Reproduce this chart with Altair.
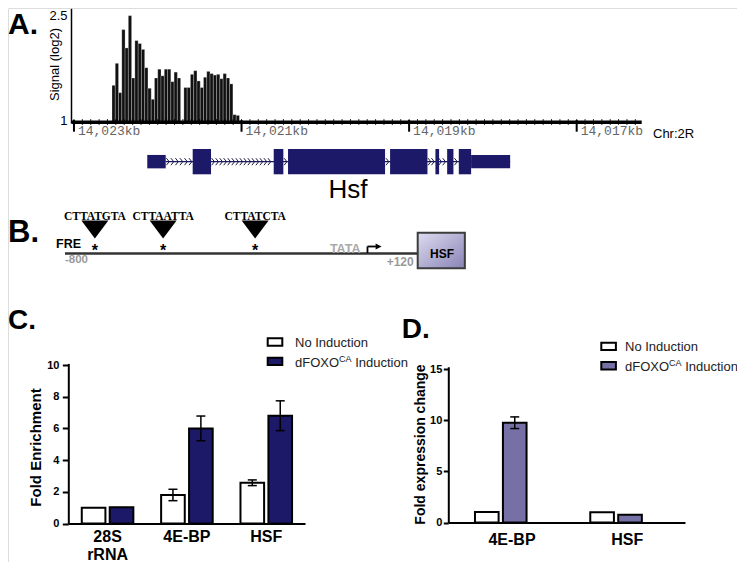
import altair as alt
import numpy as np
import pandas as pd

FONT = "Liberation Sans"
NAVY = "#1b1968"
PURPLE = "#7571a6"

# ---------------- Panel A : ChIP signal over the Hsf locus ----------------
sig_start_kb = 14022.546
sig_bin_kb = 0.039
signal_log2 = [1.50, 1.80, 1.40, 2.26, 2.01, 2.45, 1.60, 2.11, 2.07, 1.99, 1.74, 1.46, 1.31,
               1.60, 1.72, 1.63, 1.72, 1.72, 1.55, 1.68, 1.60, None, 1.47, 1.47, 1.65, 1.70,
               1.56, 1.47, 1.61, 1.69, 1.66, 1.64, 1.65, 1.59, 1.66, 1.60, 1.52, 1.10, 1.09]
ruler_span_kb = [14023.027, 14016.224]
ruler_major_kb = [14023, 14021, 14019, 14017]

exon_start_kb = [14022.125, 14021.583, 14020.616, 14020.445, 14019.227, 14018.686, 14018.546, 14018.407, 14018.260]
exon_end_kb = [14021.905, 14021.364, 14020.501, 14019.287, 14018.781, 14018.642, 14018.471, 14018.260, 14017.794]
exon_half = [0.53, 1, 1, 1, 1, 1, 1, 1, 0.53]
gene_span_kb = [14021.905, 14017.794]
chevron_kb = (list(np.round(np.arange(14021.88, 14021.60, -0.054), 3))
              + list(np.round(np.arange(14021.34, 14020.63, -0.048), 3))
              + [14020.475, 14019.259, 14018.757, 14018.717, 14018.630, 14018.582, 14018.442])
gene_name = "Hsf"
gene_label_kb = 14019.73

# ---------------- Panel B : promoter diagram ----------------
fre_bp = [-722, -544, -304]
fre_seq = ["CTTATGTA", "CTTAATTA", "CTTATCTA"]
promoter_span_bp = [-800, 120]
tata_bp = -109
tss_bp = -11
hsf_box_bp = [120, 243]

# ---------------- Panel C : ChIP fold enrichment ----------------
conds = ["No Induction", "dFOXO Induction"]
c_genes = ["28S rRNA", "4E-BP", "HSF"]
c_no_ind = [1.0, 1.8, 2.57]
c_foxo = [1.02, 6.0, 6.8]
c_no_err = [0, 0.36, 0.18]
c_foxo_err = [0, 0.78, 0.94]
c_ticks = [0, 2, 4, 6, 8, 10]

# ---------------- Panel D : expression ----------------
d_genes = ["4E-BP", "HSF"]
d_no_ind = [1.02, 1.0]
d_foxo = [9.75, 0.75]
d_no_err = [0, 0]
d_foxo_err = [0.57, 0]
d_ticks = [0, 5, 10, 15]

# ======================= build tables =======================
sig_rows = []
for i, v in enumerate(signal_log2):
    if v is None:
        continue
    s = sig_start_kb - i * sig_bin_kb
    sig_rows.append({"start": s, "end": s - sig_bin_kb, "value": v, "base": 1.0})
sig_df = pd.DataFrame(sig_rows)

minor_kb = list(np.round(np.arange(14023.0, 14016.25, -0.1), 2))


def bars_table(genes, a, b, ea, eb):
    rows = []
    for g, v1, v2, e1, e2 in zip(genes, a, b, ea, eb):
        rows.append({"gene": g, "cond": conds[0], "value": v1, "err": e1, "lo": v1 - e1, "hi": v1 + e1})
        rows.append({"gene": g, "cond": conds[1], "value": v2, "err": e2, "lo": v2 - e2, "hi": v2 + e2})
    return pd.DataFrame(rows)


c_df = bars_table(c_genes, c_no_ind, c_foxo, c_no_err, c_foxo_err)
d_df = bars_table(d_genes, d_no_ind, d_foxo, d_no_err, d_foxo_err)

# ======================= Panel A =======================
xA = alt.Scale(domain=ruler_span_kb, range=[63.7, 633.7], nice=False, zero=False)
yA = alt.Scale(domain=[0.985, 2.55], range=[115.1, 0.33], nice=False, zero=False)
axA = alt.Axis(orient="left", offset=-63, values=[1, 2.5],
               labelExpr="datum.value == 1 ? '1' : '2.5'", ticks=False, tickSize=0,
               labelOffset={"condition": {"test": "datum.value > 2", "value": 3.5}, "value": -1.5},
               labelPadding=4, labelFont=FONT, labelFontSize=13, labelColor="black",
               labelOverlap=False, labelBound=False,
               domainColor="black", domainWidth=1.5, grid=False,
               title="Signal (log2)", titleFont=FONT, titleFontSize=13, titleFontWeight="normal",
               titleColor="black", titleX=-17, titleY=56, titleAngle=270, titleAlign="center",
               titleBaseline="middle")

a_bars = alt.Chart(sig_df).mark_rect(color="#111111", stroke="white", strokeWidth=0.25).encode(
    x=alt.X("start:Q", scale=xA, axis=None), x2="end:Q",
    y=alt.Y("value:Q", scale=yA, axis=axA), y2="base:Q")
a_ruler = alt.Chart(pd.DataFrame({"a": [ruler_span_kb[0]], "b": [ruler_span_kb[1]]})).mark_rule(
    color="black", strokeWidth=3.5).encode(
    x=alt.X("a:Q", scale=xA, axis=None), x2="b:Q", y=alt.value(114.3))
a_minor = alt.Chart(pd.DataFrame({"kb": minor_kb})).mark_rule(color="black", strokeWidth=0.8).encode(
    x=alt.X("kb:Q", scale=xA, axis=None), y=alt.value(111), y2=alt.value(117))
major_df = pd.DataFrame({"kb": ruler_major_kb, "label": [f"{v:,}kb" for v in ruler_major_kb]})
a_major = alt.Chart(major_df).mark_rule(color="black", strokeWidth=2).encode(
    x=alt.X("kb:Q", scale=xA, axis=None), y=alt.value(112), y2=alt.value(123.7))
a_major_txt = alt.Chart(major_df).mark_text(align="left", baseline="alphabetic", dx=4,
                                            font="Liberation Mono", fontSize=13, color="#666666").encode(
    x=alt.X("kb:Q", scale=xA, axis=None), y=alt.value(127), text="label:N")
panelA = alt.layer(a_bars, a_ruler, a_minor, a_major, a_major_txt)

# gene model
xG = alt.Scale(domain=ruler_span_kb, range=[63.7, 633.7], nice=False, zero=False)
yG = alt.Scale(domain=[-1, 1], range=[166.3, 141], nice=False, zero=False)
exon_df = pd.DataFrame({"s": exon_start_kb, "e": exon_end_kb,
                        "lo": [-h for h in exon_half], "hi": exon_half})
g_line = alt.Chart(pd.DataFrame({"a": [gene_span_kb[0]], "b": [gene_span_kb[1]]})).mark_rule(
    color=NAVY, strokeWidth=1.2).encode(x=alt.X("a:Q", scale=xG, axis=None), x2="b:Q", y=alt.value(153.7))
g_exons = alt.Chart(exon_df).mark_rect(color=NAVY).encode(
    x=alt.X("s:Q", scale=xG, axis=None), x2="e:Q",
    y=alt.Y("lo:Q", scale=yG, axis=None), y2="hi:Q")
g_chev = alt.Chart(pd.DataFrame({"kb": chevron_kb})).mark_point(
    shape="M-0.4,-1L0.4,0L-0.4,1", size=49, filled=False, stroke="#1a1a40", strokeWidth=1, opacity=1).encode(
    x=alt.X("kb:Q", scale=xG, axis=None), y=alt.value(153.7))
g_name = alt.Chart(pd.DataFrame({"kb": [gene_label_kb], "t": [gene_name]})).mark_text(
    font=FONT, fontSize=26, align="center", baseline="alphabetic", color="black").encode(
    x=alt.X("kb:Q", scale=xG, axis=None), y=alt.value(190), text="t:N")
panelG = alt.layer(g_line, g_exons, g_chev, g_name)

# ======================= Panel B =======================
xB = alt.Scale(domain=promoter_span_bp, range=[57, 409.7], nice=False, zero=False)
fre_df = pd.DataFrame({"bp": fre_bp, "seq": fre_seq})
b_line = alt.Chart(pd.DataFrame({"a": [promoter_span_bp[0]], "b": [promoter_span_bp[1]]})).mark_rule(
    color="#333333", strokeWidth=2.5).encode(x=alt.X("a:Q", scale=xB, axis=None), x2="b:Q", y=alt.value(245.5))
b_tri = alt.Chart(fre_df).mark_point(shape="M-1,-0.667L1,-0.667L0,0.667Z", size=729, filled=True,
                                     color="black", opacity=1).encode(
    x=alt.X("bp:Q", scale=xB, axis=None), y=alt.value(221.5))
b_star = alt.Chart(fre_df).mark_text(text="*", font=FONT, fontSize=16, fontWeight="bold", color="black",
                                     baseline="alphabetic").encode(
    x=alt.X("bp:Q", scale=xB, axis=None), y=alt.value(247.8))
b_seq = alt.Chart(fre_df).mark_text(font="Liberation Serif", fontWeight="bold", fontSize=11.5,
                                    baseline="alphabetic", color="black").encode(
    x=alt.X("bp:Q", scale=xB, axis=None), y=alt.value(212), text="seq:N")


def btext(bp, txt, y, size, color="black", align="left", dx=0):
    return alt.Chart(pd.DataFrame({"bp": [bp], "t": [txt]})).mark_text(
        font=FONT, fontSize=size, fontWeight="bold", color=color, align=align, dx=dx,
        baseline="alphabetic").encode(x=alt.X("bp:Q", scale=xB, axis=None), y=alt.value(y), text="t:N")


b_fre = btext(promoter_span_bp[0], "FRE", 240.3, 12.5, dx=-9)
b_m800 = btext(promoter_span_bp[0], "-800", 255.3, 11.5, color="#9a9a9a")
b_p120 = btext(promoter_span_bp[1], "+120", 257.7, 12, color="#9a9a9a", align="right", dx=-4)
b_tata = btext(tata_bp, "TATA", 244.5, 12.5, color="#aaaaaa")
b_arr_v = alt.Chart(pd.DataFrame({"bp": [tss_bp]})).mark_rule(color="black", strokeWidth=1.8).encode(
    x=alt.X("bp:Q", scale=xB, axis=None), y=alt.value(245), y2=alt.value(238.5))
b_arr_h = alt.Chart(pd.DataFrame({"a": [tss_bp], "b": [11]})).mark_rule(color="black", strokeWidth=1.8).encode(
    x=alt.X("a:Q", scale=xB, axis=None), x2="b:Q", y=alt.value(238.5))
b_arr_head = alt.Chart(pd.DataFrame({"bp": [18]})).mark_point(
    shape="M-1,-1L1,0L-1,1Z", size=36, filled=True, color="black", opacity=1).encode(
    x=alt.X("bp:Q", scale=xB, axis=None), y=alt.value(238.5))
grad = alt.LinearGradient(gradient="linear",
                          stops=[alt.GradientStop(color="#dedcf0", offset=0),
                                 alt.GradientStop(color="#8783b6", offset=1)],
                          x1=0, x2=1, y1=0, y2=1)
b_box = alt.Chart(pd.DataFrame({"a": [hsf_box_bp[0]], "b": [hsf_box_bp[1]]})).mark_rect(
    fill=grad, stroke="#3d3d3d", strokeWidth=2).encode(
    x=alt.X("a:Q", scale=xB, axis=None), x2="b:Q", y=alt.value(224.7), y2=alt.value(260.3))
b_box_txt = btext((hsf_box_bp[0] + hsf_box_bp[1]) / 2 + 2, "HSF", 249.5, 12, align="center")
panelB = alt.layer(b_line, b_tri, b_star, b_seq, b_fre, b_m800, b_p120, b_tata,
                   b_arr_v, b_arr_h, b_arr_head, b_box, b_box_txt)


# ======================= Panels C & D =======================
def bar_panel(df, genes, colors, xrange, pin, pout, align, sub_pad, yscale, yvals,
              yax_x, ytitle, ytitle_size, ytitle_x, ytitle_y, ytick, ylabpad, xax_y, xlabpad):
    xs = alt.Scale(domain=genes, range=xrange, paddingInner=pin, paddingOuter=pout, align=align)
    xo = alt.Scale(domain=conds, paddingInner=sub_pad)
    xax = alt.Axis(orient="bottom", offset=xax_y - 554, ticks=False, tickSize=0, domainColor="black",
                   domainWidth=2, labelPadding=xlabpad, labelFont=FONT, labelFontSize=16,
                   labelFontWeight="bold", labelColor="black", labelAngle=0,
                   labelExpr="split(datum.label, ' ')", labelLineHeight=18, title=None, grid=False,
                   labelOverlap=False, labelBound=False)
    yax = alt.Axis(orient="left", offset=-yax_x, values=yvals, format="d", tickSize=ytick, tickWidth=2,
                   tickColor="black", domainColor="black", domainWidth=2, labelPadding=ylabpad,
                   labelFont=FONT, labelFontSize=11, labelFontWeight="bold", labelColor="black",
                   labelOverlap=False, labelBound=False, labelFlush=False,
                   grid=False, title=ytitle, titleFont=FONT, titleFontSize=ytitle_size,
                   titleFontWeight="bold", titleColor="black", titleX=ytitle_x, titleY=ytitle_y,
                   titleAngle=270, titleAlign="center", titleBaseline="middle")
    X = alt.X("gene:N", scale=xs, sort=genes, axis=xax)
    XO = alt.XOffset("cond:N", scale=xo, sort=conds)
    bars = alt.Chart(df).mark_bar(stroke="black", strokeWidth=2, opacity=1).encode(
        x=X, xOffset=XO, y=alt.Y("value:Q", scale=yscale, axis=yax),
        color=alt.Color("cond:N", scale=alt.Scale(domain=conds, range=colors), legend=None))
    edf = df[df["err"] > 0]
    rules = alt.Chart(edf).mark_rule(color="black", strokeWidth=1.5).encode(
        x=X, xOffset=XO, y=alt.Y("lo:Q", scale=yscale, axis=yax), y2="hi:Q")
    caps_df = pd.concat([edf.assign(yv=edf["lo"]), edf.assign(yv=edf["hi"])])
    caps = alt.Chart(caps_df).mark_tick(orient="horizontal", size=9, thickness=1.5, color="black",
                                        opacity=1).encode(
        x=X, xOffset=XO, y=alt.Y("yv:Q", scale=yscale, axis=yax))
    return alt.layer(bars, rules, caps)


# C: 15.85 px per unit; D: 10.2333 px per unit (axis line runs a little past the top tick)
panelC = bar_panel(c_df, c_genes, ["white", NAVY], [60.3, 297], 0.35, 0.1665, 0.51, 0.154,
                   alt.Scale(domain=[0, 10.1], range=[515.5, 515.5 - 10.1 * 15.85], nice=False, zero=True),
                   c_ticks, 60.3, "Fold Enrichment", 15, -33.3, 439, 6, 3.4, 515.5, 5)
panelD = bar_panel(d_df, d_genes, ["white", PURPLE], [440.3, 677], 0.358, 0.2055, 0.563, 0.11,
                   alt.Scale(domain=[0, 15.22], range=[514.5, 514.5 - 15.22 * 10.2333], nice=False, zero=True),
                   d_ticks, 440.3, "Fold expression change", 14, -27.5, 436, 5, 1.5, 514.5, 8.5)


# ======================= annotations =======================
def note(txt, x, y, size, weight="normal", align="left", color="black", font=FONT):
    return alt.Chart(pd.DataFrame({"t": [txt]})).mark_text(
        align=align, baseline="alphabetic", font=font, fontSize=size, fontWeight=weight,
        color=color).encode(x=alt.value(x), y=alt.value(y), text="t:N")


def box(x1, x2, y1, y2, fill):
    return alt.Chart(pd.DataFrame({"t": [0]})).mark_rect(fill=fill, stroke="black", strokeWidth=2).encode(
        x=alt.value(x1), x2=alt.value(x2), y=alt.value(y1), y2=alt.value(y2))


def legend(bx, tx, rows_y, base_y, fill2):
    return [
        box(bx, bx + 14.6, rows_y[0], rows_y[0] + 7.4, "white"),
        box(bx, bx + 14.6, rows_y[1], rows_y[1] + 7.4, fill2),
        note("No Induction", tx, base_y[0], 13, color="#222222"),
        note("dFOXO", tx, base_y[1], 13, color="#222222"),
        note("CA", tx + 44.1, base_y[1] - 5, 9, color="#222222"),
        note("Induction", tx + 60.2, base_y[1], 13, color="#222222"),
    ]


annots = [
    note("A.", 0, 25.5, 30, "bold"),
    note("B.", 0, 233.7, 31, "bold"),
    note("C.", 0, 321, 28, "bold"),
    note("D.", 393.7, 330, 28, "bold"),
    note("Chr:2R", 645, 130, 13),
] + legend(259.7, 287, [330.3, 349.7], [338.5, 358.5], NAVY) \
  + legend(593.3, 617, [334.7, 354], [343, 363], PURPLE)

chart = alt.layer(panelA, panelG, panelB, panelC, panelD, *annots).resolve_scale(
    x="independent", y="independent", color="independent"
).properties(
    width=729, height=554, padding=0, autosize=alt.AutoSizeParams(type="none"), background="white"
).configure_view(stroke=None).configure(font=FONT)

chart.save("out.html", embed_options={"renderer": "svg", "actions": False})
